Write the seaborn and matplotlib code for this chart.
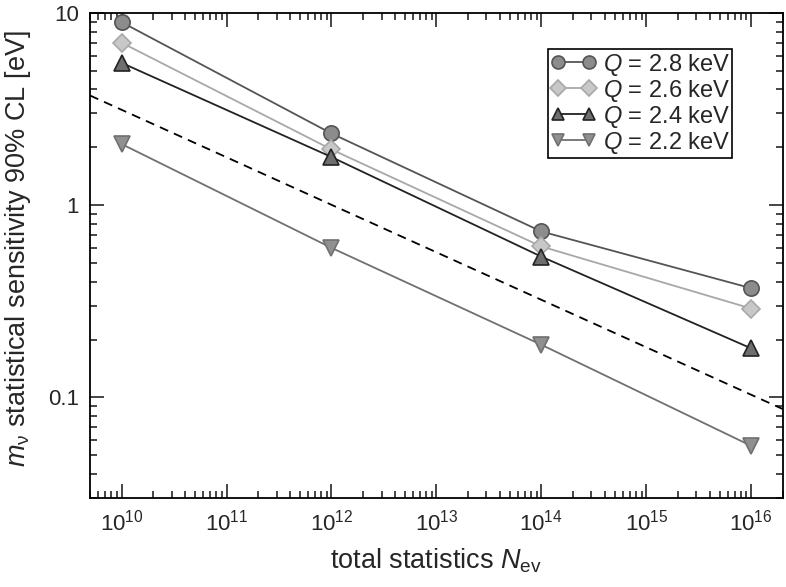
import numpy as np
import pandas as pd
import matplotlib
matplotlib.use('Agg')
import matplotlib.pyplot as plt
import seaborn as sns
from matplotlib.ticker import LogLocator, FixedLocator, FixedFormatter, NullFormatter

# data
n_ev = [1e10, 1e12, 1e14, 1e16]
q_labels = ['$\\mathit{Q}$ = 2.8 keV', '$\\mathit{Q}$ = 2.6 keV',
            '$\\mathit{Q}$ = 2.4 keV', '$\\mathit{Q}$ = 2.2 keV']
m_28 = [8.95, 2.36, 0.73, 0.37]
m_26 = [7.0, 1.95, 0.61, 0.29]
m_24 = [5.5, 1.78, 0.54, 0.18]
m_22 = [2.08, 0.60, 0.188, 0.056]
dash_x = [5e9, 2e16]
dash_y = [3.72, 0.087]

df = pd.DataFrame({
    'N': n_ev * 4,
    'm': m_28 + m_26 + m_24 + m_22,
    'Q': sum([[q] * 4 for q in q_labels], []),
})

sns.set_style('ticks')
plt.rcParams['font.family'] = ['Liberation Sans', 'DejaVu Sans']
plt.rcParams['mathtext.fontset'] = 'custom'
plt.rcParams['mathtext.rm'] = 'Liberation Sans'
plt.rcParams['mathtext.it'] = 'Liberation Sans:italic'
plt.rcParams['mathtext.default'] = 'regular'

line_cols = {q_labels[0]: '#555555', q_labels[1]: '#a8a8a8',
             q_labels[2]: '#222222', q_labels[3]: '#707070'}
face_cols = {q_labels[0]: '#8c8c8c', q_labels[1]: '#c8c8c8',
             q_labels[2]: '#6e6e6e', q_labels[3]: '#909090'}
markers = {q_labels[0]: 'o', q_labels[1]: 'D', q_labels[2]: '^', q_labels[3]: 'v'}
msize = {q_labels[0]: 11, q_labels[1]: 9, q_labels[2]: 11, q_labels[3]: 11}

fig = plt.figure(figsize=(7.86, 5.87), dpi=100)
ax = fig.add_axes([0.1145, 0.1516, 0.8815, 0.8264])

for q in q_labels:
    sub = df[df['Q'] == q]
    sns.lineplot(data=sub, x='N', y='m', ax=ax, color=line_cols[q],
                 marker=markers[q], markersize=msize[q],
                 markerfacecolor=face_cols[q], markeredgecolor=line_cols[q],
                 markeredgewidth=1.2, linewidth=1.3, label=q)

ax.plot(dash_x, dash_y, color='black', linestyle=(0, (5, 3.5)), linewidth=1.3)

ax.set_xscale('log')
ax.set_yscale('log')
ax.set_xlim(5e9, 2e16)
ax.set_ylim(0.03, 10)

ax.xaxis.set_major_locator(LogLocator(base=10, numticks=20))
ax.xaxis.set_minor_locator(LogLocator(base=10, subs=np.arange(2, 10), numticks=20))
ax.xaxis.set_minor_formatter(NullFormatter())
ax.yaxis.set_major_locator(FixedLocator([0.1, 1, 10]))
ax.yaxis.set_major_formatter(FixedFormatter(['0.1', '1', '10']))
ax.yaxis.set_minor_locator(LogLocator(base=10, subs=np.arange(2, 10), numticks=20))
ax.yaxis.set_minor_formatter(NullFormatter())

ax.tick_params(which='both', direction='in', top=True, right=True, width=1.2)
ax.tick_params(which='major', length=10, labelsize=16, pad=8)
ax.tick_params(which='minor', length=5)
for s in ax.spines.values():
    s.set_linewidth(1.3)
    s.set_color('black')

ax.set_xlabel('total statistics $\\mathit{N}_{\\rm ev}$', fontsize=19.5)
ax.set_ylabel('$\\mathit{m}_{\\nu}$ statistical sensitivity 90% CL [eV]', fontsize=19.5)
ax.xaxis.set_label_coords(0.5, -0.1)
ax.yaxis.set_label_coords(-0.082, 0.515)

leg = ax.legend(loc='upper right', bbox_to_anchor=(0.934, 0.935), fontsize=17,
                numpoints=2, handlelength=1.9, handletextpad=0.3, markerscale=0.85,
                labelspacing=0.0, borderpad=0.1, borderaxespad=0.2,
                fancybox=False, edgecolor='black', framealpha=1)
leg.get_frame().set_linewidth(1.2)

fig.savefig('out.png', dpi=100)
